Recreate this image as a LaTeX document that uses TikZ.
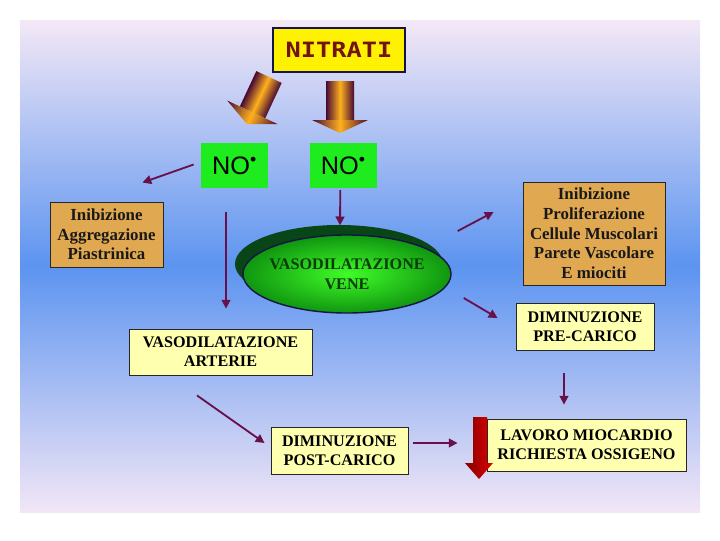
\documentclass[tikz,border=0pt]{standalone}
\usepackage{fontspec}
\setmainfont{Liberation Serif}
\setsansfont{Liberation Sans}
\newfontfamily\nitfont[FakeStretch=1.2]{DejaVu Sans Mono}
\usepackage{tikz}
\usetikzlibrary{arrows.meta,positioning,shapes.geometric,calc,shadows}

\definecolor{bgtop}{RGB}{244,232,246}
\definecolor{bgmid}{RGB}{92,148,240}
\definecolor{bgbot}{RGB}{242,230,246}
\definecolor{boxyellow}{RGB}{255,255,176}
\definecolor{boxorange}{RGB}{224,168,80}
\definecolor{nogreen}{RGB}{30,236,30}
\definecolor{msgcol}{RGB}{104,16,76}
\definecolor{navy}{RGB}{20,20,70}
\definecolor{nitcol}{RGB}{112,20,20}
\definecolor{arrdark}{RGB}{70,8,50}
\definecolor{arrlight}{RGB}{255,176,30}
\definecolor{venegreen}{RGB}{64,252,40}
\definecolor{veneedge}{RGB}{16,150,16}
\definecolor{veneshadow}{RGB}{8,70,24}
\definecolor{venetext}{RGB}{10,60,10}
\definecolor{reddark}{RGB}{130,0,0}
\definecolor{redlight}{RGB}{225,0,0}

\begin{document}
\begin{tikzpicture}[
  x=0.025cm, y=-0.025cm,
  ybox/.style={draw=black!85,line width=0.6pt,fill=boxyellow,align=center,inner sep=2pt,
    font=\bfseries\fontsize{11.5}{13.5}\selectfont},
  obox/.style={draw=black!85,line width=0.6pt,fill=boxorange,align=center,inner sep=2pt,
    text=black!90,font=\bfseries\fontsize{12}{14}\selectfont},
  nobox/.style={fill=nogreen,minimum width=1.68cm,minimum height=1.12cm,
    font=\sffamily\fontsize{18}{18}\selectfont},
  msg/.style={draw=msgcol,line width=1.3pt,-{Triangle[length=2.2mm,width=2.2mm]}},
  fatarr/.style={left color=arrdark,right color=arrdark,middle color=arrlight}
]
  \useasboundingbox (0,0) rectangle (720,540);
  \shade[top color=bgtop,bottom color=bgbot,middle color=bgmid] (20,20) rectangle (700,512);

  \node[draw=navy,line width=1.8pt,fill=yellow,minimum width=3.3cm,minimum height=1.1cm,
    text=nitcol,font=\nitfont\bfseries\fontsize{15}{15}\selectfont] (nitrati) at (339,50) {NITRATI};
  \node[nobox] (no1) at (234.5,165.5) {NO\textsuperscript{•}};
  \node[nobox,right=1.025cm of no1] (no2) {NO\textsuperscript{•}};
  \node[obox,minimum width=2.825cm,minimum height=1.625cm] (aggr) at (106.5,234.5)
    {Inibizione\\Aggregazione\\Piastrinica};
  \node[obox,minimum width=3.55cm,minimum height=2.575cm] (prolif) at (594,233.5)
    {Inibizione\\Proliferazione\\Cellule Muscolari\\Parete Vascolare\\E miociti};
  \node[ellipse,draw=navy,line width=1pt,inner color=venegreen,outer color=veneedge,
    inner xsep=-0.2cm,inner ysep=0pt,minimum width=5.2cm,minimum height=1.95cm,
    align=center,text=venetext,font=\bfseries\fontsize{11.5}{14}\selectfont,
    general shadow={fill=veneshadow,shadow xshift=-0.2cm,shadow yshift=0.25cm}] (vene) at (347,274)
    {VASODILATAZIONE\\VENE};
  \node[ybox,minimum width=3.45cm,minimum height=1.175cm] (precarico) at (585,326.5) {DIMINUZIONE\\PRE-CARICO};
  \node[ybox,minimum width=4.575cm,minimum height=1.15cm] (arterie) at (220.5,352) {VASODILATAZIONE\\ARTERIE};
  \node[ybox,minimum width=3.425cm,minimum height=1.175cm] (postcarico) at (339.5,450.5) {DIMINUZIONE\\POST-CARICO};
  \node[ybox,minimum width=4.975cm,minimum height=1.3cm] (lavoro) at (586.5,445) {LAVORO MIOCARDIO\\RICHIESTA OSSIGENO};

  \shade[fatarr] (326,81) rectangle (354,120);
  \shade[fatarr] (312,120) -- (368,120) -- (340,133) -- cycle;
  \begin{scope}[transform canvas={rotate around={-25:(269,77)}}]
    \shade[fatarr] (255,77) rectangle (283,116);
    \shade[fatarr] (241,116) -- (297,116) -- (269,129) -- cycle;
  \end{scope}
  \shade[left color=reddark,right color=redlight] (473,417) -- (487,417) -- (487,463) -- (493,463)
    -- (479,479) -- (465,463) -- (473,463) -- cycle;

  \draw[msg] ($(no1.west)+(-7,-1)$) -- ($(aggr.north east)+(-21,-19)$);
  \draw[msg] ($(no2.south)+(-3,2)$) -- ($(vene.north)+(-7,-9)$);
  \draw[msg] ($(no1.south)+(-8.5,24)$) -- ($(arterie.north)+(5.5,-20)$);
  \draw[msg] ($(vene.east)+(6,-43)$) -- ($(prolif.west)+(-29,-21.5)$);
  \draw[msg] ($(vene.east)+(12,24)$) -- ($(precarico.west)+(-18,-8.5)$);
  \draw[msg] ($(arterie.south)+(-23.5,20)$) -- ($(postcarico.west)+(-6,-7.5)$);
  \draw[msg] ($(postcarico.east)+(5,-7.5)$) -- ($(lavoro.west)+(-29,-2)$);
  \draw[msg] ($(precarico.south)+(-21,23)$) -- ($(lavoro.north)+(-22.5,-14)$);
\end{tikzpicture}
\end{document}
